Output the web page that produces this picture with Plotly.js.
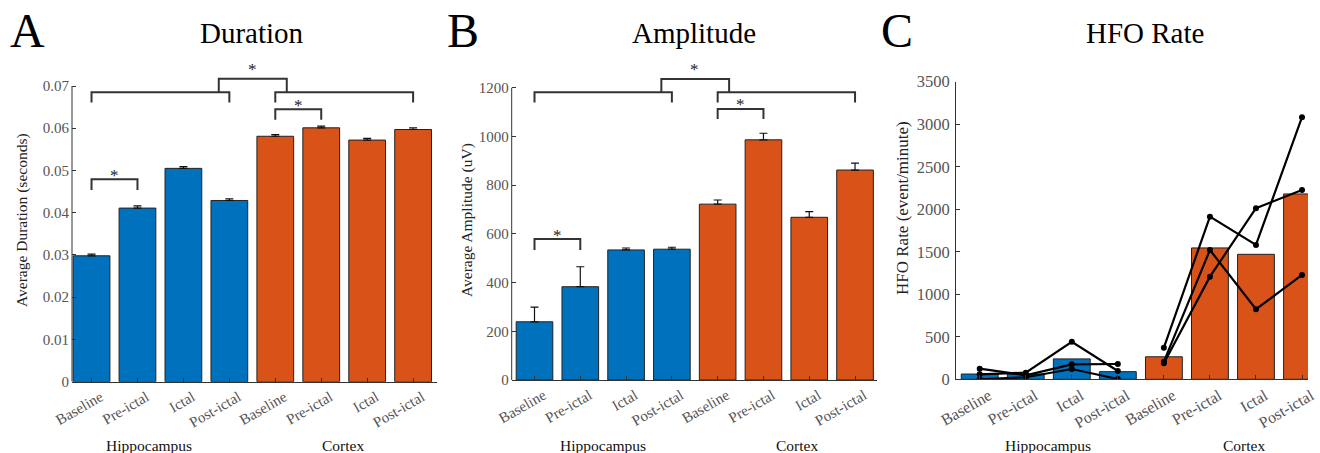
<!DOCTYPE html>
<html><head><meta charset="utf-8">
<script src="https://cdn.plot.ly/plotly-3.0.1.min.js"></script>
<style>html,body{margin:0;padding:0;background:#fff;}#chart{width:1320px;height:453px;}</style>
</head><body><div id="chart"></div>
<script>
// ---------------- data ----------------
const categories = ['Baseline', 'Pre-ictal', 'Ictal', 'Post-ictal', 'Baseline', 'Pre-ictal', 'Ictal', 'Post-ictal'];
const regionLabels = ['Hippocampus', 'Cortex'];
const panelTitles = ['Duration', 'Amplitude', 'HFO Rate'];
const panelLetters = ['A', 'B', 'C'];
const yTitles = ['Average Duration (seconds)', 'Average Amplitude (uV)', 'HFO Rate (event/minute)'];

const durationMean = [0.0298, 0.0411, 0.0505, 0.0429, 0.0581, 0.0601, 0.0572, 0.0597];
const durationErr  = [0.0004, 0.0005, 0.0004, 0.0004, 0.0004, 0.0004, 0.0004, 0.0004];
const durationTicks = [0, 0.01, 0.02, 0.03, 0.04, 0.05, 0.06, 0.07];

const amplitudeMean = [239, 383, 534, 537, 722, 986, 668, 862];
const amplitudeErr  = [60, 82, 8, 8, 17, 27, 23, 28];
const amplitudeTicks = [0, 200, 400, 600, 800, 1000, 1200];

const hfoRateMean = [62, 62, 240, 90, 265, 1545, 1470, 2180];
const hfoHippoSubjects = [
  [125, 47, 176, 180],
  [59, 78, 442, 98],
  [0, 24, 121, 4]
];
const hfoCortexSubjects = [
  [372, 1913, 1580, 3082],
  [207, 1521, 824, 1227],
  [188, 1207, 2012, 2227]
];
const hfoTicks = [0, 500, 1000, 1500, 2000, 2500, 3000, 3500];

// ---------------- styling / layout ----------------
const W = 1320, H = 453;
const SERIF = 'Liberation Serif, Times New Roman, serif';
const BLUE = '#0072BD', ORANGE = '#D95319';
const AX = '#333333';
const tickFont = {family: SERIF, size: 15, color: '#555555'};

const idx = categories.map((_, i) => i);
const hipIdx = idx.slice(0, 4), ctxIdx = idx.slice(4);

function yDom(p0, pTop, vTop, vMax) {
  const pMax = p0 - (p0 - pTop) * vMax / vTop;
  return [1 - p0 / H, 1 - pMax / H];
}
function xAxis(dom, range, yId) {
  return {domain: [dom[0] / W, dom[1] / W], range, tickmode: 'array', tickvals: idx, ticktext: categories,
    tickangle: -30, ticks: 'inside', ticklen: 4, tickwidth: 1, tickcolor: AX, showline: true, linecolor: AX,
    linewidth: 1, showgrid: false, zeroline: false, anchor: yId, tickfont: tickFont, fixedrange: true,
    ticklabelshift: 9};
}
function yAxis(dom, range, ticks, xId, showline) {
  return {domain: dom, range, tickmode: 'array', tickvals: ticks, ticktext: ticks.map(String),
    ticks: 'inside', ticklen: 4, tickwidth: 1, tickcolor: AX, showline: showline, linecolor: AX, linewidth: 1,
    showgrid: false, zeroline: false, anchor: xId, tickfont: tickFont, fixedrange: true, ticklabelstandoff: 2};
}

const traces = [];
function barPair(mean, err, xa, ya) {
  [[hipIdx, BLUE], [ctxIdx, ORANGE]].forEach(([ix, col]) => {
    const t = {type: 'bar', x: ix, y: ix.map(i => mean[i]), width: 0.8, xaxis: xa, yaxis: ya,
      marker: {color: col, line: {color: '#222', width: 1}}, hoverinfo: 'skip'};
    if (err) t.error_y = {type: 'data', symmetric: false, array: ix.map(i => err[i]), arrayminus: ix.map(() => 0),
      color: '#111', thickness: 1.2, width: 4};
    traces.push(t);
  });
}
barPair(durationMean, durationErr, 'x', 'y');
barPair(amplitudeMean, amplitudeErr, 'x2', 'y2');
barPair(hfoRateMean, null, 'x3', 'y3');

hfoHippoSubjects.forEach(s => traces.push({type: 'scatter', mode: 'lines+markers', x: hipIdx, y: s, xaxis: 'x3', yaxis: 'y3',
  line: {color: '#000', width: 2.2}, marker: {color: '#000', size: 6}, hoverinfo: 'skip'}));
hfoCortexSubjects.forEach(s => traces.push({type: 'scatter', mode: 'lines+markers', x: ctxIdx, y: s, xaxis: 'x3', yaxis: 'y3',
  line: {color: '#000', width: 2.2}, marker: {color: '#000', size: 6}, hoverinfo: 'skip'}));

// significance brackets: [x0, x1, yBar, yLeg]
function bracket(b, xa, ya) {
  traces.push({type: 'scatter', mode: 'lines', x: [b[0], b[0], b[1], b[1]], y: [b[3], b[2], b[2], b[3]],
    xaxis: xa, yaxis: ya, line: {color: '#333', width: 2}, hoverinfo: 'skip', cliponaxis: false});
}
const bracketsA = [[0, 3, 0.0685, 0.0661], [4, 7, 0.0685, 0.0661], [2.77, 4.25, 0.0717, 0.0685], [4, 5, 0.0645, 0.0620], [0, 1, 0.0479, 0.0454]];
const starsA = [[3.5, 0.0740], [4.5, 0.0655], [0.5, 0.0489]];
const bracketsB = [[0, 3, 1181, 1139], [4, 7, 1181, 1139], [2.77, 4.25, 1236, 1181], [4, 5, 1113, 1071], [0, 1, 579, 534]];
const starsB = [[3.5, 1276], [4.5, 1133], [0.5, 595]];
bracketsA.forEach(b => bracket(b, 'x', 'y'));
bracketsB.forEach(b => bracket(b, 'x2', 'y2'));

const annotations = [];
const starFont = {family: SERIF, size: 17, color: '#222222'};
starsA.forEach(s => annotations.push({xref: 'x', yref: 'y', x: s[0], y: s[1], text: '*', showarrow: false,
  font: starFont, yanchor: 'middle'}));
starsB.forEach(s => annotations.push({xref: 'x2', yref: 'y2', x: s[0], y: s[1], text: '*', showarrow: false,
  font: starFont, yanchor: 'middle'}));

// titles, letters, y titles, group labels
const titleX = [252, 694, 1145];
const letterX = [8, 445, 879];
const yTitleX = [22, 467, 902];
const yTitleY = [220, 220, 208];
panelTitles.forEach((t, i) => {
  annotations.push({xref: 'paper', yref: 'paper', x: titleX[i] / W, y: 1 - 33 / H, text: t, showarrow: false,
    xanchor: 'center', yanchor: 'middle', font: {family: SERIF, size: 29, color: '#000'}});
  annotations.push({xref: 'paper', yref: 'paper', x: letterX[i] / W, y: 1 - 30 / H, text: panelLetters[i], showarrow: false,
    xanchor: 'left', yanchor: 'middle', font: {family: SERIF, size: 48, color: '#000'}});
  annotations.push({xref: 'paper', yref: 'paper', x: yTitleX[i] / W, y: 1 - yTitleY[i] / H, text: yTitles[i], showarrow: false,
    textangle: -90, xanchor: 'center', yanchor: 'middle', font: {family: SERIF, size: i === 2 ? 17 : 15.5, color: '#222'}});
});
const groupX = [[1.26, 5.47], [1.5, 5.74], [1.49, 5.73]];
['x', 'x2', 'x3'].forEach((xa, i) => {
  regionLabels.forEach((r, j) => annotations.push({xref: xa, yref: 'paper', x: groupX[i][j], y: 1 - 445 / H, text: r,
    showarrow: false, xanchor: 'center', yanchor: 'middle', font: {family: SERIF, size: 15.5, color: '#111'}}));
});

const shapes = [
  {type: 'line', xref: 'x domain', yref: 'y', x0: 0, x1: 0, y0: 0, y1: 0.07, line: {color: AX, width: 1}},
  {type: 'line', xref: 'x2 domain', yref: 'y2', x0: 0, x1: 0, y0: 0, y1: 1200, line: {color: AX, width: 1}}
];

const layout = {
  width: W, height: H, margin: {l: 0, r: 0, t: 0, b: 0}, showlegend: false,
  paper_bgcolor: '#fff', plot_bgcolor: '#fff', bargap: 0.2,
  xaxis: xAxis([72, 437], [-0.425, 7.52], 'y'),
  yaxis: yAxis(yDom(381.7, 86, 0.07, 0.079), [0, 0.079], durationTicks, 'x', false),
  xaxis2: xAxis([511.7, 876.7], [-0.498, 7.473], 'y2'),
  yaxis2: yAxis(yDom(380, 87.7, 1200, 1350), [0, 1350], amplitudeTicks, 'x2', false),
  xaxis3: xAxis([956, 1308], [-0.515, 7.13], 'y3'),
  yaxis3: yAxis(yDom(379.3, 81.7, 3500, 3500), [0, 3500], hfoTicks, 'x3', true),
  annotations, shapes
};
layout.yaxis3.tickfont = {family: SERIF, size: 16.5, color: '#555555'};
layout.xaxis3.tickfont = {family: SERIF, size: 16, color: '#555555'};

Plotly.newPlot('chart', traces, layout, {staticPlot: true, displayModeBar: false});
</script></body></html>
